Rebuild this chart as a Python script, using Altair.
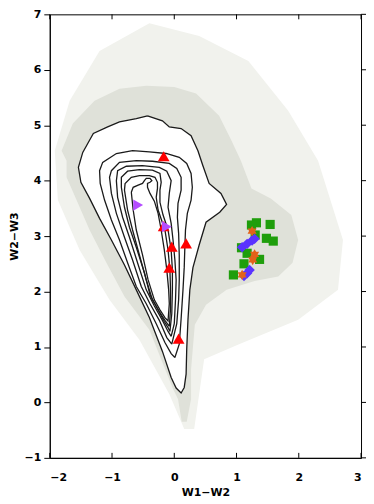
import altair as alt
import pandas as pd

X_TICKS = [-2, -1, 0, 1, 2, 3]
Y_TICKS = [-1, 0, 1, 2, 3, 4, 5, 6, 7]

# red triangles
red_x = [-0.17, -0.17, -0.04, 0.19, -0.08, 0.07]
red_y = [4.44, 3.18, 2.81, 2.87, 2.43, 1.15]
# purple right-pointing triangles
purple_x = [-0.58, -0.12]
purple_y = [3.56, 3.17]
# green squares
green_x = [1.32, 1.24, 1.54, 1.48, 1.59, 1.30, 1.08, 1.17, 1.37, 1.12, 0.95]
green_y = [3.24, 3.20, 3.21, 2.96, 2.91, 3.02, 2.79, 2.69, 2.58, 2.50, 2.30]
# blue diamonds
blue_x = [1.09, 1.17, 1.25, 1.29, 1.12, 1.17, 1.21]
blue_y = [2.80, 2.86, 2.92, 2.95, 2.28, 2.33, 2.39]
# orange stars
orange_x = [1.25, 1.29, 1.26, 1.09]
orange_y = [3.09, 2.67, 2.57, 2.30]

# density contours (outermost first)
contour_1 = [(-0.43, 5.17), (-0.19, 5.08), (-0.08, 4.97), (0.11, 4.94), (0.27, 4.81), (0.38, 4.54),
             (0.46, 4.27), (0.56, 3.95), (0.75, 3.77), (0.84, 3.57), (0.73, 3.43), (0.51, 3.25),
             (0.40, 2.84), (0.30, 2.43), (0.25, 2.03), (0.22, 1.49), (0.20, 0.96), (0.19, 0.51),
             (0.16, 0.27), (0.11, 0.17), (0.03, 0.26), (-0.05, 0.45), (-0.19, 0.92), (-0.40, 1.53),
             (-0.61, 2.03), (-0.80, 2.48), (-1.01, 2.93), (-1.20, 3.32), (-1.36, 3.68), (-1.50, 3.97),
             (-1.54, 4.24), (-1.47, 4.51), (-1.39, 4.67), (-1.30, 4.85), (-1.07, 4.97), (-0.88, 5.06),
             (-0.61, 5.12)]
contour_2 = [(0.01, 0.81), (-0.05, 0.88), (-0.15, 1.08), (-0.29, 1.42), (-0.45, 1.78), (-0.61, 2.09),
             (-0.75, 2.52), (-0.88, 2.93), (-1.01, 3.29), (-1.12, 3.65), (-1.19, 3.95), (-1.20, 4.18),
             (-1.15, 4.33), (-0.93, 4.49), (-0.67, 4.54), (-0.40, 4.52), (-0.13, 4.49), (0.08, 4.42),
             (0.20, 4.31), (0.27, 4.13), (0.29, 3.88), (0.27, 3.65), (0.21, 3.41), (0.18, 3.11),
             (0.17, 2.80), (0.16, 2.44), (0.14, 2.03), (0.11, 1.51), (0.08, 1.05)]
contour_3 = [(-0.04, 1.05), (-0.12, 1.17), (-0.24, 1.48), (-0.39, 1.78), (-0.53, 2.09), (-0.67, 2.57),
             (-0.80, 2.98), (-0.93, 3.41), (-1.01, 3.77), (-1.04, 4.06), (-1.01, 4.18), (-0.88, 4.33),
             (-0.61, 4.36), (-0.35, 4.35), (-0.08, 4.31), (0.04, 4.22), (0.11, 4.06), (0.11, 3.83),
             (0.06, 3.59), (0.05, 3.34), (0.07, 3.05), (0.08, 2.66), (0.08, 2.21), (0.07, 1.85),
             (0.04, 1.42)]
contour_4 = [(-0.05, 1.19), (-0.10, 1.28), (-0.19, 1.48), (-0.32, 1.74), (-0.45, 2.03), (-0.59, 2.52),
             (-0.72, 2.98), (-0.83, 3.34), (-0.91, 3.70), (-0.93, 4.00), (-0.91, 4.18), (-0.77, 4.26),
             (-0.51, 4.27), (-0.24, 4.24), (-0.12, 4.17), (-0.05, 4.00), (-0.08, 3.77), (-0.10, 3.52),
             (-0.05, 3.23), (-0.02, 2.93), (0.01, 2.57), (0.03, 2.21), (0.02, 1.85), (0.00, 1.42)]
contour_5 = [(-0.07, 1.28), (-0.10, 1.35), (-0.16, 1.46), (-0.27, 1.69), (-0.39, 1.94), (-0.48, 2.34),
             (-0.61, 2.80), (-0.72, 3.16), (-0.80, 3.52), (-0.85, 3.88), (-0.85, 4.06), (-0.75, 4.17),
             (-0.56, 4.20), (-0.35, 4.19), (-0.23, 4.13), (-0.21, 3.97), (-0.23, 3.83), (-0.23, 3.61),
             (-0.18, 3.38), (-0.10, 3.11), (-0.05, 2.75), (-0.03, 2.39), (-0.03, 2.03), (-0.04, 1.60)]
contour_6 = [(-0.08, 1.37), (-0.15, 1.48), (-0.24, 1.64), (-0.35, 1.85), (-0.45, 2.21), (-0.56, 2.66),
             (-0.67, 3.11), (-0.75, 3.47), (-0.80, 3.83), (-0.79, 3.95), (-0.69, 4.06), (-0.56, 4.09),
             (-0.40, 4.09), (-0.31, 4.06), (-0.27, 3.97), (-0.27, 3.86), (-0.29, 3.70), (-0.26, 3.47),
             (-0.15, 3.11), (-0.10, 2.75), (-0.07, 2.39), (-0.06, 2.03), (-0.06, 1.69)]
contour_7 = [(-0.69, 3.79), (-0.66, 3.88), (-0.58, 3.92), (-0.51, 3.95), (-0.48, 4.00), (-0.45, 4.04),
             (-0.39, 4.04), (-0.36, 4.00), (-0.39, 3.97), (-0.43, 3.95), (-0.43, 3.88), (-0.39, 3.77),
             (-0.32, 3.63), (-0.26, 3.41), (-0.21, 3.11), (-0.16, 2.75), (-0.12, 2.39), (-0.09, 2.03),
             (-0.08, 1.78), (-0.10, 1.47), (-0.15, 1.53), (-0.23, 1.67), (-0.32, 1.85), (-0.42, 2.21),
             (-0.51, 2.66), (-0.61, 3.11), (-0.66, 3.47)]
CONTOURS = [contour_1, contour_2, contour_3, contour_4, contour_5, contour_6, contour_7]

# outline of the dense part of the background source cloud
cloud_dense = [(-0.45, 5.71), (0.00, 5.69), (0.35, 5.57), (0.72, 5.17), (0.92, 4.72), (1.07, 4.36),
               (1.24, 3.86), (1.55, 3.68), (1.88, 3.38), (1.99, 2.93), (1.90, 2.52), (1.67, 2.27),
               (1.29, 2.19), (0.84, 2.03), (0.51, 1.76), (0.33, 1.40), (0.27, 0.60), (0.27, 0.06),
               (0.20, -0.35), (0.12, -0.35), (0.06, 0.06), (-0.02, 0.24), (-0.40, 1.31), (-0.80, 1.91),
               (-1.09, 2.52), (-1.36, 3.11), (-1.57, 3.65), (-1.73, 4.06), (-1.73, 4.36), (-1.81, 4.54),
               (-1.63, 5.03), (-1.28, 5.44), (-0.88, 5.66)]
# outline of the sparse halo of the cloud
cloud_halo = [(-0.40, 6.84), (0.40, 6.61), (1.19, 6.16), (1.83, 5.26), (2.31, 4.36), (2.71, 2.93),
              (2.63, 2.03), (1.99, 1.49), (1.04, 1.05), (0.48, 0.78), (0.32, -0.48), (0.16, -0.48),
              (-0.08, 0.15), (-0.56, 1.13), (-1.04, 1.85), (-1.52, 2.75), (-1.87, 3.65), (-1.92, 4.54),
              (-1.68, 5.44), (-1.20, 6.34)]

STAR6 = ("M0,-1L0.29,-0.5L0.87,-0.5L0.58,0L0.87,0.5L0.29,0.5L0,1L-0.29,0.5"
         "L-0.87,0.5L-0.58,0L-0.87,-0.5L-0.29,-0.5Z")


def path_frame(points, level=0, close=True):
    pts = list(points) + ([points[0]] if close else [])
    return pd.DataFrame({"x": [p[0] for p in pts], "y": [p[1] for p in pts],
                         "i": list(range(len(pts))), "level": level})


xs = alt.Scale(domain=[-2, 3], nice=False, zero=False)
ys = alt.Scale(domain=[-1, 7], nice=False, zero=False)
FONT = "DejaVu Sans"

X_ENC = alt.X("x:Q", scale=xs, title="W1−W2",
              axis=alt.Axis(values=X_TICKS, ticks=False, grid=False, labelPadding=14,
                            titlePadding=4, domainColor="#000"))
Y_ENC = alt.Y("y:Q", scale=ys, title="W2−W3",
              axis=alt.Axis(values=Y_TICKS, tickSize=6, grid=False, labelPadding=3,
                            titlePadding=5, domainColor="#000", tickColor="#000"))


def poly(points, fill):
    return alt.Chart(path_frame(points)).mark_line(fill=fill, strokeOpacity=0).encode(
        x=X_ENC, y=Y_ENC, order="i:Q")


halo = poly(cloud_halo, "#f1f2ed")
dense = poly(cloud_dense, "#dfe1d9")
white = poly(contour_1, "#ffffff")

contour_layers = [
    alt.Chart(path_frame(c, level=k + 1)).mark_line(color="#1a1a1a", strokeWidth=1.3).encode(
        x=X_ENC, y=Y_ENC, order="i:Q")
    for k, c in enumerate(CONTOURS)
]


def pts(xv, yv, shape, color, size):
    df = pd.DataFrame({"x": xv, "y": yv})
    return alt.Chart(df).mark_point(shape=shape, filled=True, color=color, size=size,
                                    opacity=1).encode(x=X_ENC, y=Y_ENC)


green = pts(green_x, green_y, "square", "#1f9e0c", 85)
blue = pts(blue_x, blue_y, "diamond", "#5a33ff", 110)
orange = pts(orange_x, orange_y, STAR6, "#e2621a", 110)
red = pts(red_x, red_y, "triangle-up", "#ff0000", 140)
purple = pts(purple_x, purple_y, "triangle-right", "#b44cff", 130)

# inward ticks on bottom / top, outward ticks on the right
tx = pd.DataFrame({"x": X_TICKS})
ty = pd.DataFrame({"y": Y_TICKS})
ticks_bottom = alt.Chart(tx).mark_rule(color="#000", strokeWidth=1).encode(
    x=X_ENC, y=alt.value(446), y2=alt.value(441))
ticks_top = alt.Chart(tx).mark_rule(color="#000", strokeWidth=1).encode(
    x=X_ENC, y=alt.value(0), y2=alt.value(5))
ticks_right = alt.Chart(ty).mark_rule(color="#000", strokeWidth=1).encode(
    y=Y_ENC, x=alt.value(313), x2=alt.value(319))

chart = alt.layer(
    halo, dense, white, *contour_layers, green, blue, orange, red, purple,
    ticks_bottom, ticks_top, ticks_right,
).properties(
    width=313, height=446,
    autosize=alt.AutoSizeParams(type="none"),
    padding={"left": 42, "top": 5, "right": 5, "bottom": 40},
).configure_view(stroke="#000", strokeWidth=1).configure_axis(
    labelFont=FONT, titleFont=FONT, labelFontSize=11, titleFontSize=11,
    labelColor="#000", titleColor="#000", labelFontWeight="bold", titleFontWeight="bold",
)

chart.save("out.html", embed_options={"renderer": "svg", "actions": False})
